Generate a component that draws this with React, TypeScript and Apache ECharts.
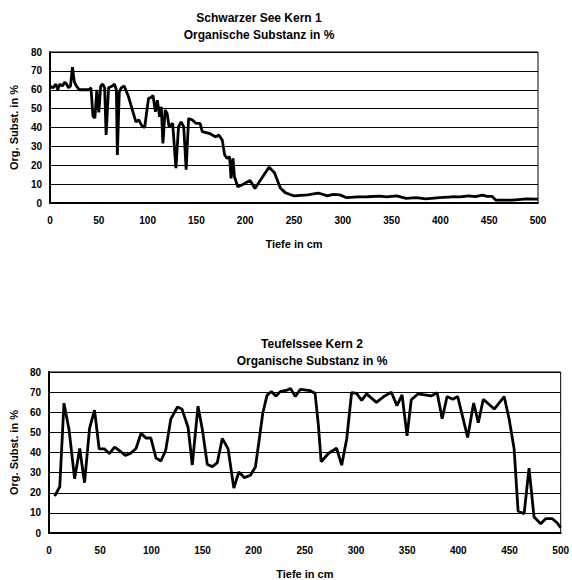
import React, { useEffect, useRef } from "react";
import * as echarts from "echarts";

const title1 = "Schwarzer See Kern 1";
const title2 = "Teufelssee Kern 2";
const subTitle = "Organische Substanz in %";
const yName = "Org. Subst. in %";
const xName = "Tiefe in cm";

// Schwarzer See Kern 1: depth (cm) and organic substance (%)
const depth1 = [
  0, 3, 6, 8, 10, 13, 15, 17, 19, 21, 23, 25, 27, 30, 35, 40, 42, 44, 46, 48,
  50, 52, 54, 56, 57.5, 60, 64, 66, 68, 69, 71, 73, 76, 80, 84, 88, 91, 94, 97,
  99, 101, 104, 105.5, 108, 110, 112.3, 114, 115.7, 118, 120, 122, 125.7, 129,
  131.7, 134.3, 137, 139.5, 142, 146, 149.5, 153.8, 156, 163, 170, 173, 176.5,
  179, 181.5, 184, 185.5, 187.5, 189, 192.4, 197, 205, 210, 216, 224.5, 230,
  236, 241, 246, 250, 264, 270, 275, 280, 284, 290, 297, 304, 315, 325, 338,
  345, 355, 365, 375, 385, 399, 412, 420, 429, 436, 443, 448, 453, 457, 474,
  488, 500,
];
const org1 = [
  62, 61, 63, 60, 63, 62, 64, 63, 61, 62, 72, 64, 62, 60, 60, 60, 61, 46, 45,
  60, 48, 62, 63, 61, 36, 61, 62, 63, 60, 25.5, 59, 61, 62, 57, 50, 43, 44, 41,
  40, 48, 55.5, 56, 57, 48.3, 54.5, 45.7, 51, 31.6, 49.3, 47.5, 40.4, 42.2,
  18.5, 40.4, 43, 40.4, 17.6, 44.8, 43.9, 42.2, 42.2, 37.8, 36.9, 35, 36, 33.3,
  25.4, 23.6, 24.5, 13, 23.6, 13.9, 8.6, 9.7, 12, 7.7, 12.4, 19, 16, 8, 5.5,
  4.5, 3.8, 4.3, 4.8, 5.2, 4.5, 3.8, 4.6, 4.3, 2.8, 3.2, 3.3, 3.6, 3.2, 3.8,
  2.5, 2.8, 2.2, 2.8, 3.3, 3.2, 3.8, 3.4, 4.2, 3.5, 3.5, 1.5, 1.5, 2.2, 2,
];

// Teufelssee Kern 2: depth (cm) and organic substance (%)
const depth2 = [
  5.5, 10.5, 14.6, 19.5, 25, 30, 34.7, 39.6, 44.5, 49, 54, 59, 64, 68.7, 74.6,
  79.5, 85, 90, 94.7, 99.5, 104.5, 109.3, 114, 119, 125.5, 130, 135.9, 140,
  145.6, 149.8, 154.7, 159.6, 164.5, 169.3, 175, 180.6, 185.5, 191, 196.8,
  201.7, 205, 208.9, 213, 217.3, 221.8, 226, 232.6, 236, 240.7, 245.6, 255.3,
  260, 263.3, 265.9, 273, 281, 286, 290.9, 295.7, 300.6, 305.5, 310.3, 320,
  328, 334.6, 340, 345, 349.9, 354, 360.5, 373.5, 379.3, 384.2, 389, 394.6,
  399.4, 409.1, 415, 419.5, 424.4, 435.1, 444.8, 449.7, 454.5, 458.4, 464.3,
  469.1, 474, 480.5, 485.4, 491.9, 496.7, 500,
];
const org2 = [
  18.3, 23, 64.5, 51.6, 27, 42, 25, 52, 61, 41.8, 41.8, 39.5, 42.7, 41, 38.6,
  39.5, 42, 49.6, 47.2, 47.2, 37.3, 35.8, 41, 56.6, 62.6, 61.5, 52.5, 33.8, 63,
  51.6, 34, 33, 35, 47, 41.8, 22.3, 30.3, 27.5, 28.7, 32.8, 44.9, 59.5, 68.4,
  70.3, 68, 70.3, 71, 71.8, 67.8, 71.4, 70.7, 69.4, 53.2, 35.4, 39.5, 42.2,
  33.7, 46.7, 69.7, 69.4, 65.9, 69.1, 64.9, 68.1, 69.9, 63.3, 68.6, 48.3, 66.2,
  69.1, 68.1, 69.7, 56.8, 67.8, 66.5, 67.8, 47.5, 64.6, 54.8, 66.5, 61.6, 67.8,
  56.5, 41.9, 10.9, 9.6, 32.2, 7.9, 4.6, 7.1, 7.1, 5, 2.6,
];

const FONT = "Arial, 'Liberation Sans', sans-serif";

export default function App() {
  const ref = useRef<HTMLDivElement>(null);
  useEffect(() => {
    if (!ref.current) return;
    const chart = echarts.init(ref.current, null, { renderer: "svg" });
    const pts1 = depth1.map((d, i) => [d, org1[i]]);
    const pts2 = depth2.map((d, i) => [d, org2[i]]);
    const labelStyle = {
      color: "#000",
      fontFamily: FONT,
      fontWeight: "bold" as const,
      fontSize: 10,
    };
    const nameStyle = {
      color: "#000",
      fontFamily: FONT,
      fontWeight: "bold" as const,
      fontSize: 11,
    };
    const titleStyle = {
      color: "#000",
      fontFamily: FONT,
      fontWeight: "bold" as const,
      fontSize: 12,
      lineHeight: 17,
    };
    const mkX = (gridIndex: number) => ({
      type: "value" as const,
      gridIndex,
      min: 0,
      max: 500,
      interval: 50,
      name: xName,
      nameLocation: "middle" as const,
      nameGap: 35,
      nameTextStyle: nameStyle,
      axisLine: { show: true, lineStyle: { color: "#000", width: 2 } },
      axisTick: { show: false },
      axisLabel: { ...labelStyle, margin: 12 },
      splitLine: { show: false },
    });
    const mkY = (gridIndex: number, gap: number) => ({
      type: "value" as const,
      gridIndex,
      min: 0,
      max: 80,
      interval: 10,
      name: yName,
      nameLocation: "middle" as const,
      nameGap: gap,
      nameRotate: 90,
      nameTextStyle: nameStyle,
      axisLine: { show: true, lineStyle: { color: "#000", width: 2 } },
      axisTick: { show: false },
      axisLabel: { ...labelStyle, margin: 8 },
      splitLine: { show: true, lineStyle: { color: "#000", width: 1 } },
    });
    chart.setOption({
      animation: false,
      backgroundColor: "#fff",
      title: [
        {
          text: title1 + "\n" + subTitle,
          left: 254,
          top: 4,
          textAlign: "center",
          textStyle: titleStyle,
        },
        {
          text: title2 + "\n" + subTitle,
          left: 307,
          top: 330,
          textAlign: "center",
          textStyle: titleStyle,
        },
      ],
      grid: [
        {
          left: 48,
          top: 52,
          width: 490,
          height: 151,
          show: true,
          borderColor: "#000",
          borderWidth: 1,
          backgroundColor: "transparent",
        },
        {
          left: 49,
          top: 372,
          width: 514,
          height: 164,
          show: true,
          borderColor: "#000",
          borderWidth: 1,
          backgroundColor: "transparent",
        },
      ],
      xAxis: [mkX(0), mkX(1)],
      yAxis: [mkY(0, 31), mkY(1, 29)],
      series: [
        {
          type: "line",
          xAxisIndex: 0,
          yAxisIndex: 0,
          data: pts1,
          showSymbol: false,
          lineStyle: { color: "#000", width: 2.8 },
        },
        {
          type: "line",
          xAxisIndex: 1,
          yAxisIndex: 1,
          data: pts2,
          showSymbol: false,
          lineStyle: { color: "#000", width: 2.8 },
        },
      ],
    });
    return () => chart.dispose();
  }, []);
  return (
    <div
      ref={ref}
      style={{ position: "absolute", left: 0, top: 0, width: 572, height: 580 }}
    />
  );
}
